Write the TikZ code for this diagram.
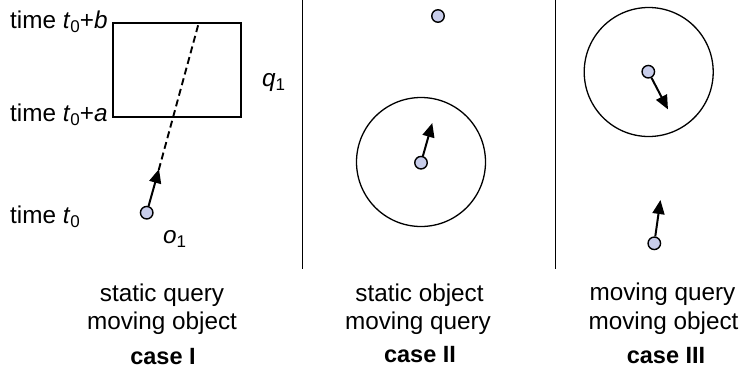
\documentclass[tikz,border=0pt]{standalone}
\usepackage{fontspec}
\setmainfont{Liberation Sans}
\usetikzlibrary{arrows.meta}
\definecolor{dotfill}{RGB}{200,205,234}
\newcommand\lowsub[1]{\raisebox{-0.32ex}{\fontsize{17}{17}\selectfont #1}}
\tikzset{
  dot/.style={circle,draw=black,line width=1.4pt,fill=dotfill,minimum size=12.5pt,inner sep=0pt},
  movearrow/.style={line width=2pt,-{Triangle[length=14pt,width=12pt]},shorten >=-1pt},
  txt/.style={font=\fontsize{24.3}{28}\selectfont,inner sep=0pt},
  casetxt/.style={font=\fontsize{23.5}{26}\selectfont\bfseries,inner sep=0pt},
  sep/.style={line width=1.8pt},
  region/.style={line width=1.3pt}
}
\begin{document}
\begin{tikzpicture}[x=1pt,y=-1pt]
\useasboundingbox (0,0) rectangle (741,375);
% ---- case I ----
\node[draw,line width=1.9pt,minimum width=128pt,minimum height=94pt,inner sep=0pt,anchor=north west] (q1box) at (112,22) {};
\node[txt,anchor=base west] (lb) at (10,28) {time \textit{t}\lowsub{0}+\textit{b}};
\node[txt,anchor=base west] (la) at (10,121) {time \textit{t}\lowsub{0}+\textit{a}};
\node[txt,anchor=base west] (l0) at (10,223) {time \textit{t}\lowsub{0}};
\node[txt,anchor=base west] (q1) at (262,86) {\textit{q}\lowsub{1}};
\node[dot] (o1dot) at (146.7,212.7) {};
\node[txt,anchor=base west] (o1) at (163,243) {\textit{o}\lowsub{1}};
\coordinate (tipI) at (158.7,170);
\coordinate (topI) at (199,22);
\draw[line width=1.9pt,dash pattern=on 7pt off 4pt] (tipI) -- (topI);
\draw[movearrow] (o1dot) -- (tipI);
% separators
\coordinate (s1t) at (302.5,0); \coordinate (s1b) at (302.5,269);
\coordinate (s2t) at (555.5,0); \coordinate (s2b) at (555.5,269);
\draw[sep] (s1t) -- (s1b);
\draw[sep] (s2t) -- (s2b);
% ---- case II ----
\node[dot] (topdot) at (438,16) {};
\node[circle,draw,region,minimum size=129pt,inner sep=0pt] (regII) at (421,162) {};
\node[dot] (dotII) at (421,162.7) {};
\coordinate (tipII) at (432,124);
\draw[movearrow] (dotII) -- (tipII);
% ---- case III ----
\node[circle,draw,region,minimum size=129pt,inner sep=0pt] (regIII) at (648.7,72) {};
\node[dot] (dotIII) at (648.3,71.7) {};
\coordinate (tipIII) at (667.5,108.5);
\draw[movearrow] (dotIII) -- (tipIII);
\node[dot] (dotIIIb) at (654.3,243.3) {};
\coordinate (tipIIIb) at (660.3,201);
\draw[movearrow] (dotIIIb) -- (tipIIIb);
% ---- captions ----
\node[txt,anchor=base] (c1a) at (162,301) {static query};
\node[txt,anchor=base] (c1b) at (162,329) {moving object};
\node[casetxt,anchor=base] (c1c) at (163,364) {case I};
\node[txt,anchor=base] (c2a) at (419.5,301) {static object};
\node[txt,anchor=base] (c2b) at (418,329) {moving query};
\node[casetxt,anchor=base] (c2c) at (420,362) {case II};
\node[txt,anchor=base] (c3a) at (662.5,300) {moving query};
\node[txt,anchor=base] (c3b) at (663.5,329) {moving object};
\node[casetxt,anchor=base] (c3c) at (666,363) {case III};
\end{tikzpicture}
\end{document}
